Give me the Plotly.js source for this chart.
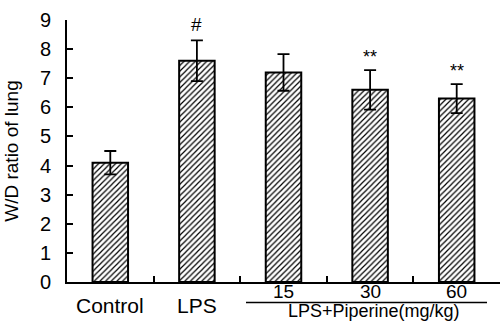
<!DOCTYPE html>
<html><head><meta charset="utf-8">
<script src="https://cdn.plot.ly/plotly-3.0.1.min.js"></script>
<style>html,body{margin:0;padding:0;background:#fff}#chart{width:501px;height:322px}</style>
</head><body><div id="chart"></div>
<script>
const categories = ["Control","LPS","15","30","60"];
const values = [4.1, 7.6, 7.2, 6.6, 6.3];
const errors = [0.4, 0.7, 0.63, 0.68, 0.5];
const marks = ["", "#", "", "**", "**"];
const groupLabel = "LPS+Piperine(mg/kg)";
const yTicks = [0,1,2,3,4,5,6,7,8,9];

const font = "Liberation Sans, Arial, sans-serif";
const H = 262, Y0 = 282; // plot height / bottom in px (for paper positions)
const py = px => (Y0 - px) / H;
const annotations = [];
categories.forEach((c,i)=>{
  const isDose = i >= 2;
  annotations.push({x:i, xref:'x', y: isDose ? py(291.5) : py(305), yref:'paper', text:c, showarrow:false,
    xanchor:'center', yanchor:'middle', borderpad:0, font:{family:font, size: isDose ? 19 : 21, color:'#000'}});
  if (marks[i]) {
    const isHash = marks[i] === '#';
    annotations.push({x:i, xref:'x', y: values[i]+errors[i], yref:'y', text:marks[i], showarrow:false,
      xanchor:'center', yanchor:'middle', yshift: isHash ? 16 : 13,
      font:{family:font, size: isHash ? 19 : 18, color:'#000'}});
  }
});
annotations.push({x:3.04, xref:'x', y:py(322.3), yref:'paper', text:groupLabel, showarrow:false,
  xanchor:'center', yanchor:'bottom', borderpad:0, font:{family:font, size:18, color:'#000'}});

const trace = {
  type:'bar', x:categories, y:values,
  width:0.41,
  marker:{color:'white', line:{color:'black', width:2},
    pattern:{shape:'/', fgcolor:'black', bgcolor:'white', size:4, solidity:0.3}},
  error_y:{type:'data', array:errors, visible:true, color:'black', thickness:1.8, width:6}
};

const layout = {
  width:501, height:322,
  margin:{l:67, r:1, t:20, b:40},
  paper_bgcolor:'white', plot_bgcolor:'white',
  showlegend:false,
  font:{family:font, color:'#000'},
  xaxis:{type:'category', range:[-0.5,4.5], showticklabels:false, showline:true, linecolor:'black', linewidth:2,
    ticks:'inside', tickson:'boundaries', ticklen:6, tickwidth:2, tickcolor:'black', showgrid:false, zeroline:false},
  yaxis:{range:[0,9], tickvals:yTicks, ticktext:yTicks.map(String), showline:true, linecolor:'black', linewidth:2,
    ticks:'inside', ticklen:6, tickwidth:2, tickcolor:'black', showgrid:false, zeroline:false,
    tickfont:{family:font, size:20, color:'#000'}, ticklabelstandoff:10,
    title:{text:'W/D ratio of lung', font:{family:font, size:19, color:'#000'}, standoff:16}},
  annotations:annotations,
  shapes:[{type:'line', xref:'x', yref:'paper', x0:1.567, x1:4.35, y0:py(302.6), y1:py(302.6),
    line:{color:'black', width:1.5}}]
};
Plotly.newPlot('chart',[trace],layout,{displayModeBar:false, staticPlot:true});
</script></body></html>
